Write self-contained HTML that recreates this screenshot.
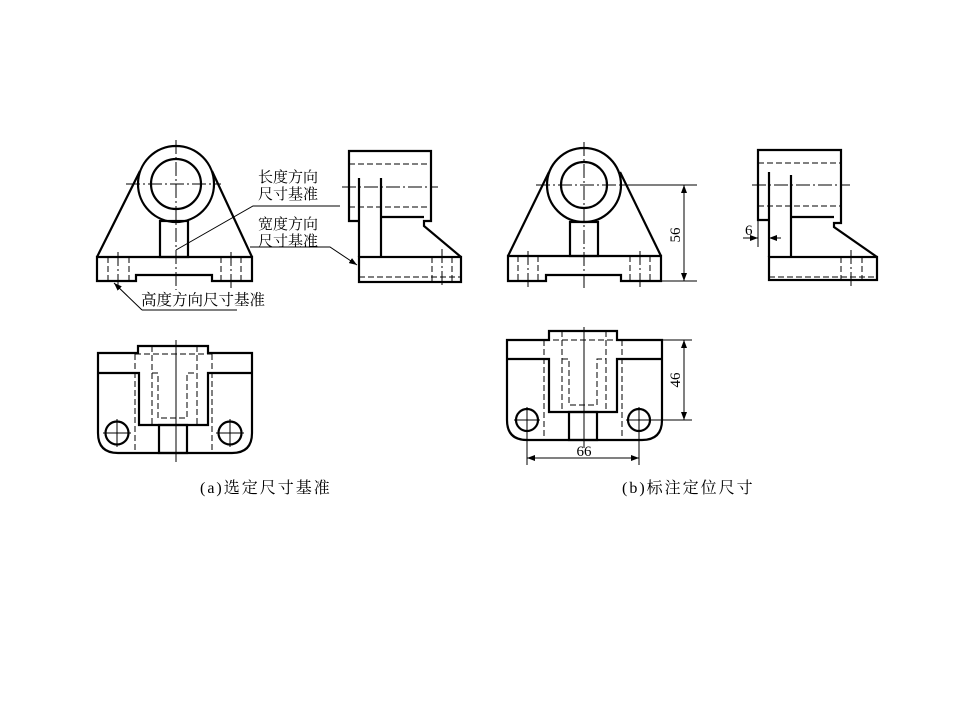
<!DOCTYPE html>
<html><head><meta charset="utf-8"><style>
html,body{margin:0;padding:0;background:#fff;}
svg{display:block;}
text{font-family:"Liberation Serif","Noto Serif CJK SC","Noto Sans CJK SC",serif;fill:#000;}
</style></head><body>
<svg width="960" height="720" viewBox="0 0 960 720" xmlns="http://www.w3.org/2000/svg">
<defs>
<marker id="ar" markerWidth="8" markerHeight="6" refX="8" refY="3" orient="auto" markerUnits="userSpaceOnUse"><path d="M0,0 L8,3 L0,6 z" fill="#000"/></marker>
</defs>
<g fill="none" stroke="#000">
<!-- ===== (a) front ===== -->
<g stroke-width="2.2">
<circle cx="176" cy="184" r="38"/>
<circle cx="176" cy="184" r="25"/>
<line x1="97" y1="257" x2="140" y2="171"/>
<line x1="252" y1="257" x2="212" y2="171"/>
<rect x="160" y="221" width="28" height="36"/>
<path d="M97,257 H252 V281 H212 V275 H136 V281 H97 Z"/>
</g>
<g stroke-width="1" stroke-dasharray="6,3">
<line x1="108" y1="257" x2="108" y2="281"/><line x1="129" y1="257" x2="129" y2="281"/>
<line x1="221" y1="257" x2="221" y2="281"/><line x1="241" y1="257" x2="241" y2="281"/>
</g>
<g stroke-width="1" stroke-dasharray="14,3,2,3">
<line x1="176" y1="140" x2="176" y2="290"/>
<line x1="126" y1="184" x2="221" y2="184"/>
<line x1="118" y1="252" x2="118" y2="288"/>
<line x1="231" y1="252" x2="231" y2="288"/>
</g>
<!-- ===== (a) side ===== -->
<g stroke-width="2.2">
<path d="M359,221 H349 V151 H431 V221 H424 V226 L461,257"/>
<rect x="359" y="257" width="102" height="25"/>
<line x1="359" y1="178" x2="359" y2="257"/>
<line x1="381" y1="178" x2="381" y2="257"/>
<line x1="381" y1="217" x2="424" y2="217"/>
</g>
<g stroke-width="1" stroke-dasharray="6,3">
<line x1="349" y1="164" x2="431" y2="164"/>
<line x1="349" y1="207" x2="431" y2="207"/>
<line x1="359" y1="277" x2="461" y2="277"/>
<line x1="432" y1="257" x2="432" y2="282"/><line x1="452" y1="257" x2="452" y2="282"/>
</g>
<g stroke-width="1" stroke-dasharray="14,3,2,3">
<line x1="342" y1="187" x2="438" y2="187"/>
<line x1="442" y1="249" x2="442" y2="288"/>
</g>
<!-- leaders -->
<g stroke-width="1">
<polyline points="176,250 253,206 340,206"/>
<polyline points="250,247 330,247 357,265" marker-end="url(#ar)"/>
<polyline points="142,310 237,310"/>
<line x1="142" y1="310" x2="114" y2="283" marker-end="url(#ar)"/>
</g>
<!-- ===== (a) bottom ===== -->
<g stroke-width="2.2">
<path d="M98,353 H138 V346 H208 V353 H252 V433 Q252,453 232,453 H118 Q98,453 98,433 Z"/>
<polyline points="98,373 139,373 139,425 208,425 208,373 252,373"/>
<rect x="159" y="425" width="28" height="28"/>
<circle cx="117" cy="433" r="11.5"/>
<circle cx="230" cy="433" r="11.5"/>
</g>
<g stroke-width="1" stroke-dasharray="6,3">
<line x1="135" y1="354" x2="212" y2="354"/>
<line x1="135" y1="354" x2="135" y2="453"/>
<line x1="212" y1="354" x2="212" y2="453"/>
<line x1="152" y1="346" x2="152" y2="425"/>
<line x1="197" y1="346" x2="197" y2="425"/>
<polyline points="152,373 158,373 158,418 187,418 187,373 197,373"/>
</g>
<g stroke-width="1">
<line x1="176" y1="340" x2="176" y2="462"/>
<line x1="103" y1="433" x2="131" y2="433"/><line x1="117" y1="419" x2="117" y2="447"/>
<line x1="216" y1="433" x2="244" y2="433"/><line x1="230" y1="419" x2="230" y2="447"/>
</g>

<!-- ===== (b) front ===== -->
<g stroke-width="2.2">
<circle cx="584" cy="185" r="37"/>
<circle cx="584" cy="185" r="23"/>
<line x1="508" y1="256" x2="549" y2="172"/>
<line x1="661" y1="256" x2="620" y2="172"/>
<rect x="570" y="222" width="28" height="34"/>
<path d="M508,256 H661 V281 H621 V275 H546 V281 H508 Z"/>
</g>
<g stroke-width="1" stroke-dasharray="6,3">
<line x1="518" y1="256" x2="518" y2="281"/><line x1="538" y1="256" x2="538" y2="281"/>
<line x1="630" y1="256" x2="630" y2="281"/><line x1="650" y1="256" x2="650" y2="281"/>
</g>
<g stroke-width="1" stroke-dasharray="14,3,2,3">
<line x1="584" y1="142" x2="584" y2="290"/>
<line x1="536" y1="185" x2="620" y2="185"/>
<line x1="528" y1="251" x2="528" y2="288"/>
<line x1="640" y1="251" x2="640" y2="288"/>
</g>
<g stroke-width="1">
<line x1="620" y1="185" x2="697" y2="185"/>
<line x1="662" y1="281" x2="697" y2="281"/>
<line x1="684" y1="195" x2="684" y2="185" marker-end="url(#ar)"/>
<line x1="684" y1="190" x2="684" y2="281" marker-end="url(#ar)"/>
</g>
<!-- ===== (b) side ===== -->
<g stroke-width="2.2">
<path d="M769,220 H758 V150 H841 V223 H834 V227 L877,257"/>
<rect x="769" y="257" width="108" height="23"/>
<line x1="769" y1="172" x2="769" y2="257"/>
<line x1="791" y1="175" x2="791" y2="257"/>
<line x1="791" y1="217" x2="834" y2="217"/>
</g>
<g stroke-width="1" stroke-dasharray="6,3">
<line x1="758" y1="163" x2="841" y2="163"/>
<line x1="758" y1="206" x2="841" y2="206"/>
<line x1="769" y1="277" x2="877" y2="277"/>
<line x1="841" y1="257" x2="841" y2="280"/><line x1="862" y1="257" x2="862" y2="280"/>
</g>
<g stroke-width="1" stroke-dasharray="14,3,2,3">
<line x1="752" y1="185" x2="850" y2="185"/>
<line x1="851" y1="250" x2="851" y2="287"/>
</g>
<g stroke-width="1">
<line x1="758" y1="220" x2="758" y2="247"/>
<line x1="743" y1="238" x2="758" y2="238" marker-end="url(#ar)"/>
<line x1="781" y1="238" x2="769" y2="238" marker-end="url(#ar)"/>
</g>
<!-- ===== (b) bottom ===== -->
<g stroke-width="2.2">
<path d="M507,340 H549 V331 H617 V340 H662 V420 Q662,440 642,440 H527 Q507,440 507,420 Z"/>
<polyline points="507,359 549,359 549,412 617,412 617,359 662,359"/>
<rect x="569" y="412" width="28" height="28"/>
<circle cx="527" cy="420" r="11"/>
<circle cx="639" cy="420" r="11"/>
</g>
<g stroke-width="1" stroke-dasharray="6,3">
<line x1="544" y1="340" x2="622" y2="340"/>
<line x1="544" y1="340" x2="544" y2="440"/>
<line x1="622" y1="340" x2="622" y2="440"/>
<line x1="562" y1="331" x2="562" y2="412"/>
<line x1="606" y1="331" x2="606" y2="412"/>
<polyline points="562,359 569,359 569,405 597,405 597,359 606,359"/>
</g>
<g stroke-width="1">
<line x1="584" y1="327" x2="584" y2="448"/>
<line x1="514" y1="420" x2="540" y2="420"/><line x1="527" y1="407" x2="527" y2="433"/>
<line x1="626" y1="420" x2="652" y2="420"/><line x1="639" y1="407" x2="639" y2="433"/>
<line x1="662" y1="340" x2="692" y2="340"/>
<line x1="650" y1="420" x2="692" y2="420"/>
<line x1="684" y1="380" x2="684" y2="340" marker-end="url(#ar)"/>
<line x1="684" y1="380" x2="684" y2="420" marker-end="url(#ar)"/>
<line x1="527" y1="432" x2="527" y2="465"/>
<line x1="639" y1="432" x2="639" y2="465"/>
<line x1="584" y1="458" x2="527" y2="458" marker-end="url(#ar)"/>
<line x1="584" y1="458" x2="639" y2="458" marker-end="url(#ar)"/>
</g>
</g>
<!-- text -->
<g font-size="15">
<text x="258" y="182">长度方向</text>
<text x="258" y="199">尺寸基准</text>
<text x="258" y="229">宽度方向</text>
<text x="258" y="246">尺寸基准</text>
<text x="141" y="305" font-size="15.5">高度方向尺寸基准</text>
</g>
<text x="745" y="235" font-size="15">6</text>
<text x="584" y="456" font-size="15" text-anchor="middle">66</text>
<text transform="translate(680,235) rotate(-90)" font-size="15" text-anchor="middle">56</text>
<text transform="translate(680,380) rotate(-90)" font-size="15" text-anchor="middle">46</text>
<text x="200" y="493" font-size="16" letter-spacing="2">(a)选定尺寸基准</text>
<text x="622" y="493" font-size="16" letter-spacing="2">(b)标注定位尺寸</text>
</svg>
</body></html>
